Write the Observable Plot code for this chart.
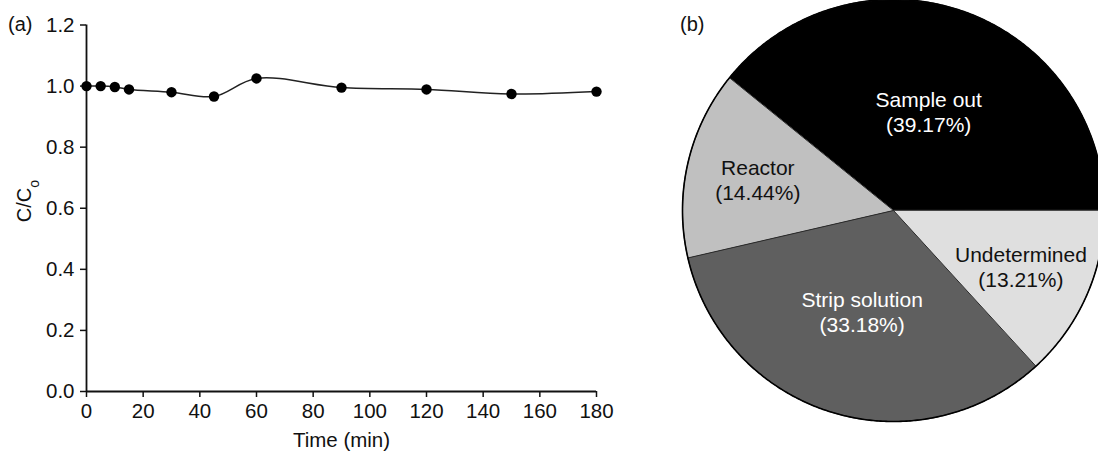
<!DOCTYPE html>
<html>
<head>
<meta charset="utf-8">
<script src="https://cdn.jsdelivr.net/npm/d3@7"></script>
<script src="https://cdn.jsdelivr.net/npm/@observablehq/plot@0.6"></script>
<style>
  html, body { margin: 0; padding: 0; background: #fff; overflow: hidden; }
  #wrap { position: relative; width: 1098px; height: 451px; overflow: hidden; font-family: "Liberation Sans", Arial, sans-serif; }
  #left { position: absolute; left: 0; top: 0; }
  #right { position: absolute; left: 660px; top: 0; }
</style>
</head>
<body>
<div id="wrap"><div id="left"></div><div id="right"></div></div>
<script>
// ---- Data (a) ----
const times = [0, 5, 10, 15, 30, 45, 60, 90, 120, 150, 180];
const ratios = [1.0, 1.0, 0.997, 0.989, 0.98, 0.966, 1.025, 0.995, 0.989, 0.974, 0.982];
const xTicks = [0, 20, 40, 60, 80, 100, 120, 140, 160, 180];
const yTicks = [0.0, 0.2, 0.4, 0.6, 0.8, 1.0, 1.2];
const xTitle = "Time (min)";

// ---- Data (b) ----
const sliceNames = ["Sample out", "Reactor", "Strip solution", "Undetermined"];
const slicePercents = [39.17, 14.44, 33.18, 13.21];
const sliceColors = ["#000000", "#c0c0c0", "#5f5f5f", "#dfdfdf"];
const labelColors = ["#ffffff", "#111111", "#ffffff", "#111111"];

const FONT = '"Liberation Sans", Arial, sans-serif';

// ---------- Chart (a) ----------
const series = times.map((t, i) => ({t, c: ratios[i]}));
const left = Plot.plot({
  width: 640, height: 451,
  marginLeft: 86, marginRight: 44, marginTop: 24.5, marginBottom: 60,
  style: {fontFamily: FONT, fontSize: "20px", color: "#111", background: "transparent", overflow: "visible"},
  x: {domain: [0, 180]},
  y: {domain: [0, 1.2]},
  marks: [
    Plot.axisY({ticks: yTicks, tickFormat: () => "", tickSize: 6, label: null, strokeWidth: 1.5}),
    Plot.axisX({ticks: xTicks, tickFormat: () => "", tickSize: 6, label: null, strokeWidth: 1.5}),
    Plot.text(yTicks, {x: 0, y: d => d, text: d => d.toFixed(1), textAnchor: "end", dx: -12, fontSize: 20.5, fill: "#111"}),
    Plot.text(xTicks, {x: d => d, y: 0, text: d => String(d), dy: 19.5, fontSize: 20.5, fill: "#111"}),
    Plot.text([xTitle], {frameAnchor: "bottom", dy: 55, text: d => d, fontSize: 20.5, fill: "#111"}),
    Plot.ruleX([0], {y1: 0, y2: 1.2, stroke: "#111", strokeWidth: 1.8}),
    Plot.ruleY([0], {x1: 0, x2: 180, stroke: "#111", strokeWidth: 1.8}),
    Plot.line(series, {x: "t", y: "c", curve: "catmull-rom", stroke: "#222", strokeWidth: 1.5}),
    Plot.dot(series, {x: "t", y: "c", r: 5.2, fill: "#000", stroke: "none"})
  ]
});
document.getElementById("left").appendChild(left);
{
  const svg = d3.select(left);
  svg.append("text").attr("x", 8).attr("y", 24).attr("dy", "0.35em").attr("text-anchor", "start")
    .style("font-size", "20px").attr("font-family", FONT).attr("fill", "#111").text("(a)");
  const yl = svg.append("text")
    .attr("transform", "translate(31,201) rotate(-90)")
    .attr("text-anchor", "middle").style("font-size", "20px").attr("font-family", FONT).attr("fill", "#111");
  yl.append("tspan").text("C/C");
  yl.append("tspan").attr("baseline-shift", "sub").style("font-size", "14px").text("o");
}

// ---------- Chart (b) ----------
const total = d3.sum(slicePercents);
const polys = [];
const labels = [];
let a0 = 0;
slicePercents.forEach((p, i) => {
  const a1 = a0 + p / total * 2 * Math.PI;
  const pts = [{x: 0, y: 0}];
  const n = Math.max(8, Math.ceil((a1 - a0) / (Math.PI / 360)));
  for (let k = 0; k <= n; k++) {
    const a = a0 + (a1 - a0) * k / n;
    pts.push({x: Math.cos(a), y: Math.sin(a)});
  }
  polys.push(pts);
  const mid = (a0 + a1) / 2;
  const r = p / total > 0.3 ? 0.5 : 0.66;
  labels.push({x: r * Math.cos(mid), y: r * Math.sin(mid), text: `${sliceNames[i]}\n(${p.toFixed(2)}%)`, color: labelColors[i]});
  a0 = a1;
});
const circle = d3.range(0, 721).map(k => ({x: Math.cos(k / 720 * 2 * Math.PI), y: Math.sin(k / 720 * 2 * Math.PI)}));

const right = Plot.plot({
  width: 438, height: 451,
  margin: 0,
  style: {fontFamily: FONT, fontSize: "21px", background: "transparent", overflow: "visible"},
  x: {domain: [-1, 1], range: [22, 444], axis: null},
  y: {domain: [-1, 1], range: [421, -1], axis: null},
  marks: [
    ...polys.map((pts, i) => Plot.line(pts, {x: "x", y: "y", curve: "linear-closed", fill: sliceColors[i], stroke: "#2a2a2a", strokeWidth: 1})),
    Plot.line(circle, {x: "x", y: "y", curve: "linear-closed", stroke: "#000", strokeWidth: 1.6}),
    Plot.text(labels, {x: "x", y: "y", text: "text", fill: d => d.color, lineHeight: 1.2, fontSize: 21})
  ]
});
document.getElementById("right").appendChild(right);
d3.select(right).append("text").attr("x", 20).attr("y", 24).attr("dy", "0.35em").attr("text-anchor", "start")
  .style("font-size", "20px").attr("font-family", FONT).attr("fill", "#111").text("(b)");
</script>
</body>
</html>
